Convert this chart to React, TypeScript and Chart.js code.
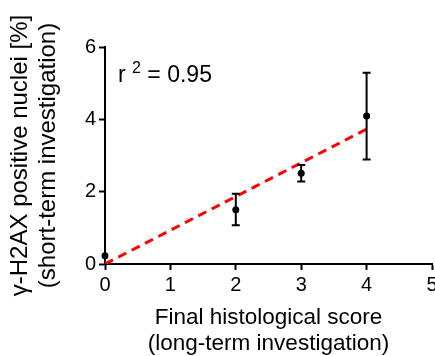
import React, { useEffect, useRef } from "react";
import { Chart, registerables } from "chart.js";

Chart.register(...registerables);

const scores = [0, 2, 3, 4];
const means = [0.23, 1.5, 2.51, 4.09];
const errUpper = [0.23, 1.94, 2.74, 5.29];
const errLower = [0.23, 1.07, 2.28, 2.89];
const fitX = [0, 4];
const fitY = [0.0, 3.73];
const xTitle = ["Final histological score", "(long-term investigation)"];
const yTitle = ["γ-H2AX positive nuclei [%]", "(short-term investigation)"];
const rSquared = "0.95";

const FONT = "'Liberation Sans', Arial, sans-serif";

const errorBarPlugin = {
  id: "errorBars",
  afterDatasetsDraw(chart: any) {
    const { ctx, scales } = chart;
    const xs = scales.x;
    const ys = scales.y;
    ctx.save();
    ctx.strokeStyle = "#000";
    ctx.lineWidth = 2;
    for (let i = 0; i < scores.length; i++) {
      const px = xs.getPixelForValue(scores[i]);
      const top = ys.getPixelForValue(errUpper[i]);
      const bot = ys.getPixelForValue(errLower[i]);
      if (Math.abs(bot - top) < 1) continue;
      ctx.beginPath();
      ctx.moveTo(px, top);
      ctx.lineTo(px, bot);
      ctx.moveTo(px - 4, top);
      ctx.lineTo(px + 4, top);
      ctx.moveTo(px - 4, bot);
      ctx.lineTo(px + 4, bot);
      ctx.stroke();
    }
    ctx.restore();
  },
};

const r2Plugin = {
  id: "r2label",
  afterDraw(chart: any) {
    const { ctx, chartArea } = chart;
    ctx.save();
    ctx.fillStyle = "#000";
    ctx.textBaseline = "alphabetic";
    ctx.textAlign = "left";
    let x = chartArea.left + 13;
    const y = chartArea.top + 35;
    ctx.font = `23px ${FONT}`;
    ctx.fillText("r", x, y);
    x += ctx.measureText("r ").width;
    ctx.font = `16px ${FONT}`;
    ctx.fillText("2", x, y - 9);
    x += ctx.measureText("2").width;
    ctx.font = `23px ${FONT}`;
    ctx.fillText(" = " + rSquared, x, y);
    ctx.restore();
  },
};

export default function App() {
  const ref = useRef<HTMLCanvasElement>(null);
  useEffect(() => {
    if (!ref.current) return;
    const axisCommon = {
      type: "linear" as const,
      grid: {
        drawOnChartArea: false,
        drawTicks: true,
        tickLength: 6,
        tickWidth: 2,
        tickColor: "#000",
      },
      border: { color: "#000", width: 2 },
    };
    const chart = new Chart(ref.current, {
      type: "scatter",
      data: {
        datasets: [
          {
            type: "line",
            data: fitX.map((x, i) => ({ x, y: fitY[i] })),
            borderColor: "#ff0000",
            borderWidth: 3,
            borderDash: [9, 6],
            pointRadius: 0,
            fill: false,
            showLine: true,
          } as any,
          {
            data: scores.map((x, i) => ({ x, y: means[i] })),
            backgroundColor: "#000",
            borderColor: "#000",
            pointRadius: 3.5,
            pointBorderWidth: 0,
            clip: false,
          } as any,
        ],
      },
      options: {
        responsive: false,
        animation: false,
        layout: { padding: { top: 47, right: 13, left: 0, bottom: 0 } },
        plugins: {
          legend: { display: false },
          tooltip: { enabled: false },
        },
        scales: {
          x: {
            ...axisCommon,
            min: 0,
            max: 5,
            ticks: {
              stepSize: 1,
              color: "#000",
              padding: 3,
              font: { family: FONT, size: 20 },
            },
            title: {
              display: true,
              text: xTitle,
              color: "#000",
              font: { family: FONT, size: 22.5, lineHeight: 1.12 },
              padding: { top: 0, bottom: 0 },
            },
            afterFit: (s: any) => {
              s.height = 92;
            },
          },
          y: {
            ...axisCommon,
            min: 0,
            max: 6,
            ticks: {
              stepSize: 2,
              color: "#000",
              padding: 3,
              font: { family: FONT, size: 20 },
            },
            title: {
              display: true,
              text: yTitle,
              color: "#000",
              font: { family: FONT, size: 24, lineHeight: 1.15 },
              padding: { top: 7, bottom: 0 },
            },
            afterFit: (s: any) => {
              s.width = 105;
            },
          },
        },
      },
      plugins: [errorBarPlugin, r2Plugin],
    });
    return () => chart.destroy();
  }, []);
  return (
    <div
      style={{
        position: "fixed",
        left: 0,
        top: 0,
        width: 435,
        height: 356,
        overflow: "hidden",
        background: "#fff",
      }}
    >
      <canvas ref={ref} width={445} height={356} style={{ width: 445, height: 356, display: "block" }} />
    </div>
  );
}
